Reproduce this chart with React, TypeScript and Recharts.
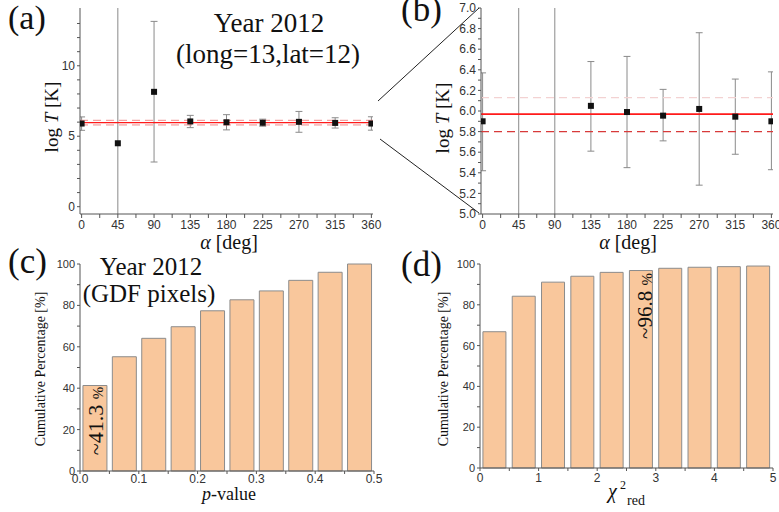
import React from 'react';
import {
  ScatterChart,
  ComposedChart,
  Scatter,
  Bar,
  XAxis,
  YAxis,
  ReferenceLine,
} from 'recharts';

// ---------- data: panels (a) & (b) ----------
const alphaDeg = [0, 45, 90, 135, 180, 225, 270, 315, 360];
const logT = [5.9, 4.5, 8.15, 6.05, 5.99, 5.955, 6.02, 5.945, 5.9];
const logTErrLow = [0.48, 12, 4.98, 0.44, 0.54, 0.245, 0.74, 0.365, 0.47];
const logTErrHigh = [0.47, 12, 5.0, 0.43, 0.54, 0.255, 0.74, 0.365, 0.48];
const fitMean = 5.97;
const fitLower = 5.8;
const fitUpper = 6.13;

const alphaTicks = [0, 22.5, 45, 67.5, 90, 112.5, 135, 157.5, 180, 202.5, 225, 247.5, 270, 292.5, 315, 337.5, 360];
const logTTicksA = [0, 1, 2, 3, 4, 5, 6, 7, 8, 9, 10, 11, 12, 13];
const logTTicksB = [5.0, 5.1, 5.2, 5.3, 5.4, 5.5, 5.6, 5.7, 5.8, 5.9, 6.0, 6.1, 6.2, 6.3, 6.4, 6.5, 6.6, 6.7, 6.8, 6.9, 7.0];

// ---------- data: panel (c) ----------
const pBinCenters = [0.025, 0.075, 0.125, 0.175, 0.225, 0.275, 0.325, 0.375, 0.425, 0.475];
const pCumulative = [41.3, 55.2, 64.1, 69.7, 77.4, 82.7, 87.0, 92.1, 96.0, 100];
const pTicks = [0, 0.05, 0.1, 0.15, 0.2, 0.25, 0.3, 0.35, 0.4, 0.45, 0.5];

// ---------- data: panel (d) ----------
const chiBinCenters = [0.25, 0.75, 1.25, 1.75, 2.25, 2.75, 3.25, 3.75, 4.25, 4.75];
const chiCumulative = [66.8, 84.2, 91.1, 94.0, 95.9, 96.8, 97.9, 98.4, 98.7, 99.0];
const chiTicks = [0, 0.5, 1, 1.5, 2, 2.5, 3, 3.5, 4, 4.5, 5];
const pctTicks = [0, 10, 20, 30, 40, 50, 60, 70, 80, 90, 100];

const alphaRows = alphaDeg.map((a, i) => ({
  alpha: a,
  logT: logT[i],
  lo: logT[i] - logTErrLow[i],
  hi: logT[i] + logTErrHigh[i],
}));
const pRows = pBinCenters.map((c, i) => ({ x: c, cum: pCumulative[i] }));
const chiRows = chiBinCenters.map((c, i) => ({ x: c, cum: chiCumulative[i] }));

// ---------- styles ----------
const SANS = '"Liberation Sans", Arial, sans-serif';
const SERIF = '"Liberation Serif", "Times New Roman", serif';
const AXIS = '#555';
const TICKTXT = '#333';
const BAR_FILL = '#F9C79C';
const BAR_STROKE = '#8c8c8c';
const ERR = '#8a8a8a';
const CAP_HALF_DEG = 4.3;

const fmtAlpha = (v: number) => (Number.isInteger(v) && v % 45 === 0 ? String(v) : '');
const fmtA = (v: number) => (v % 5 === 0 ? String(v) : '');
const fmtB = (v: number) => (Math.round(v * 10) % 2 === 0 ? v.toFixed(1) : '');
const fmtP = (v: number) => (Math.round(v * 100) % 10 === 0 ? v.toFixed(1) : '');
const fmtPct = (v: number) => (v % 20 === 0 ? String(v) : '');
const fmtChi = (v: number) => (Number.isInteger(v) ? String(v) : '');

const SquareDot = (props: any) => {
  const { cx, cy } = props;
  if (cx == null || cy == null) return null;
  return <rect x={cx - 3} y={cy - 3} width={6} height={6} fill="#111" />;
};

const tickStyle = (size: number) => ({ fill: TICKTXT, fontSize: size, fontFamily: SANS });

function AlphaPanel(props: { left: number; yDomain: [number, number]; yTicks: number[]; fmt: (v: number) => string; yWidth: number; right: number; width: number; faint: boolean }) {
  const { left, yDomain, yTicks, fmt, yWidth, right, width, faint } = props;
  const errLines: any[] = [];
  alphaRows.forEach((r) => {
    errLines.push(
      <ReferenceLine key={`s${r.alpha}`} segment={[{ x: r.alpha, y: r.lo }, { x: r.alpha, y: r.hi }]} ifOverflow="hidden" stroke={ERR} strokeWidth={1} />
    );
    errLines.push(
      <ReferenceLine key={`l${r.alpha}`} segment={[{ x: r.alpha - CAP_HALF_DEG, y: r.lo }, { x: r.alpha + CAP_HALF_DEG, y: r.lo }]} ifOverflow="hidden" stroke={ERR} strokeWidth={1} />
    );
    errLines.push(
      <ReferenceLine key={`h${r.alpha}`} segment={[{ x: r.alpha - CAP_HALF_DEG, y: r.hi }, { x: r.alpha + CAP_HALF_DEG, y: r.hi }]} ifOverflow="hidden" stroke={ERR} strokeWidth={1} />
    );
  });
  return (
    <div style={{ position: 'absolute', left, top: 0 }}>
      <ScatterChart width={width} height={260} margin={{ top: 8, right, bottom: 0, left: 0 }}>
        <XAxis
          dataKey="alpha"
          type="number"
          domain={[-2, 362]}
          ticks={alphaTicks}
          tickFormatter={fmtAlpha}
          allowDataOverflow
          interval={0}
          height={46}
          tickSize={4}
          tickMargin={2}
          stroke={AXIS}
          tick={tickStyle(12)}
        />
        <YAxis
          dataKey="logT"
          type="number"
          domain={yDomain}
          ticks={yTicks}
          tickFormatter={fmt}
          allowDataOverflow
          interval={0}
          width={yWidth}
          tickSize={3}
          tickMargin={2}
          stroke={AXIS}
          tick={tickStyle(12)}
        />
        {errLines}
        <ReferenceLine y={fitUpper} stroke={faint ? '#f3d2d2' : '#f08a8a'} strokeDasharray="8 5" strokeWidth={faint ? 1.2 : 1} />
        <ReferenceLine y={fitLower} stroke={faint ? '#d83a3a' : '#f08a8a'} strokeDasharray="8 5" strokeWidth={faint ? 1.2 : 1} />
        <ReferenceLine y={fitMean} stroke="#ff1a1a" strokeWidth={faint ? 1.6 : 1.2} />
        <Scatter data={alphaRows} shape={<SquareDot />} isAnimationActive={false} />
      </ScatterChart>
    </div>
  );
}

function CumPanel(props: { left: number; rows: any[]; xDomain: [number, number]; xTicks: number[]; fmt: (v: number) => string; yWidth: number; right: number; width: number; xHeight: number; xTickMargin: number }) {
  const { left, rows, xDomain, xTicks, fmt, yWidth, right, width, xHeight, xTickMargin } = props;
  return (
    <div style={{ position: 'absolute', left, top: 250 }}>
      <ComposedChart width={width} height={262} data={rows} margin={{ top: 14, right, bottom: 0, left: 0 }} barCategoryGap="10%">
        <XAxis
          dataKey="x"
          type="number"
          domain={xDomain}
          ticks={xTicks}
          tickFormatter={fmt}
          allowDataOverflow
          interval={0}
          height={xHeight}
          tickSize={3}
          tickMargin={xTickMargin}
          stroke={AXIS}
          tick={tickStyle(12)}
        />
        <YAxis
          type="number"
          domain={[0, 100]}
          ticks={pctTicks}
          tickFormatter={fmtPct}
          interval={0}
          width={yWidth}
          tickSize={3}
          tickMargin={2}
          stroke={AXIS}
          tick={tickStyle(11)}
        />
        <Bar dataKey="cum" fill={BAR_FILL} stroke={BAR_STROKE} strokeWidth={1} isAnimationActive={false} />
      </ComposedChart>
    </div>
  );
}

export default function App() {
  return (
    <div style={{ position: 'absolute', left: 0, top: 0, width: 779, height: 512, overflow: 'hidden', background: '#fff' }}>
      <AlphaPanel left={0} yDomain={[-0.52, 14.1]} yTicks={logTTicksA} fmt={fmtA} yWidth={80} right={17} width={390} faint={false} />
      <AlphaPanel left={390} yDomain={[5.0, 7.0]} yTicks={logTTicksB} fmt={fmtB} yWidth={91} right={6} width={389} faint={true} />
      <CumPanel left={0} rows={pRows} xDomain={[0, 0.5]} xTicks={pTicks} fmt={fmtP} yWidth={80} right={16} width={390} xHeight={41} xTickMargin={0} />
      <CumPanel left={390} rows={chiRows} xDomain={[0, 5]} xTicks={chiTicks} fmt={fmtChi} yWidth={90} right={6} width={389} xHeight={44} xTickMargin={2} />

      <svg width={779} height={512} style={{ position: 'absolute', left: 0, top: 0, pointerEvents: 'none' }}>
        {/* zoom connector lines */}
        <line x1={378} y1={101} x2={479} y2={8} stroke="#222" strokeWidth={1} />
        <line x1={380} y1={139} x2={479} y2={213} stroke="#222" strokeWidth={1} />

        {/* panel labels */}
        <text x={8} y={29} fontFamily={SERIF} fontSize={34} fill="#111">(a)</text>
        <text x={401} y={21} fontFamily={SERIF} fontSize={35} fill="#111">(b)</text>
        <text x={8} y={273} fontFamily={SERIF} fontSize={35} fill="#111">(c)</text>
        <text x={401} y={276} fontFamily={SERIF} fontSize={35} fill="#111">(d)</text>

        {/* titles */}
        <text x={269} y={32} textAnchor="middle" fontFamily={SERIF} fontSize={27} fill="#111">Year 2012</text>
        <text x={268} y={63} textAnchor="middle" fontFamily={SERIF} fontSize={27} fill="#111">(long=13,lat=12)</text>
        <text x={151} y={275} textAnchor="middle" fontFamily={SERIF} fontSize={25} fill="#111">Year 2012</text>
        <text x={149} y={302} textAnchor="middle" fontFamily={SERIF} fontSize={25} fill="#111">(GDF pixels)</text>

        {/* axis titles (a) */}
        <text transform="translate(58,117) rotate(-90)" textAnchor="middle" fontFamily={SERIF} fontSize={19} fill="#111">
          log <tspan fontStyle="italic">T</tspan> [K]
        </text>
        <text x={229} y={249} textAnchor="middle" fontFamily={SERIF} fontSize={20} fill="#111">
          <tspan fontStyle="italic">α</tspan> [deg]
        </text>

        {/* axis titles (b) */}
        <text transform="translate(449,118) rotate(-90)" textAnchor="middle" fontFamily={SERIF} fontSize={19} fill="#111">
          log <tspan fontStyle="italic">T</tspan> [K]
        </text>
        <text x={628} y={249} textAnchor="middle" fontFamily={SERIF} fontSize={20} fill="#111">
          <tspan fontStyle="italic">α</tspan> [deg]
        </text>

        {/* axis titles (c) */}
        <text transform="translate(45,369) rotate(-90)" textAnchor="middle" fontFamily={SERIF} fontSize={14} fill="#111">
          Cumulative Percentage [%]
        </text>
        <text x={229} y={500} textAnchor="middle" fontFamily={SERIF} fontSize={18} fill="#111">
          <tspan fontStyle="italic">p</tspan>-value
        </text>

        {/* axis titles (d) */}
        <text transform="translate(448,369) rotate(-90)" textAnchor="middle" fontFamily={SERIF} fontSize={14} fill="#111">
          Cumulative Percentage [%]
        </text>
        <text x={608} y={498} fontFamily={SERIF} fontSize={20} fontStyle="italic" fill="#111">χ</text>
        <text x={620} y={489} fontFamily={SERIF} fontSize={12} fill="#111">2</text>
        <text x={627} y={505} fontFamily={SERIF} fontSize={14} fill="#111">red</text>

        {/* annotations */}
        <text transform="translate(103,421) rotate(-90)" textAnchor="middle" fontFamily={SERIF} fontSize={22} fill="#111">
          ~41.3 <tspan fontSize={15}>%</tspan>
        </text>
        <text transform="translate(652,306) rotate(-90)" textAnchor="middle" fontFamily={SERIF} fontSize={21} fill="#111">
          ~96.8 <tspan fontSize={15}>%</tspan>
        </text>
      </svg>
    </div>
  );
}
